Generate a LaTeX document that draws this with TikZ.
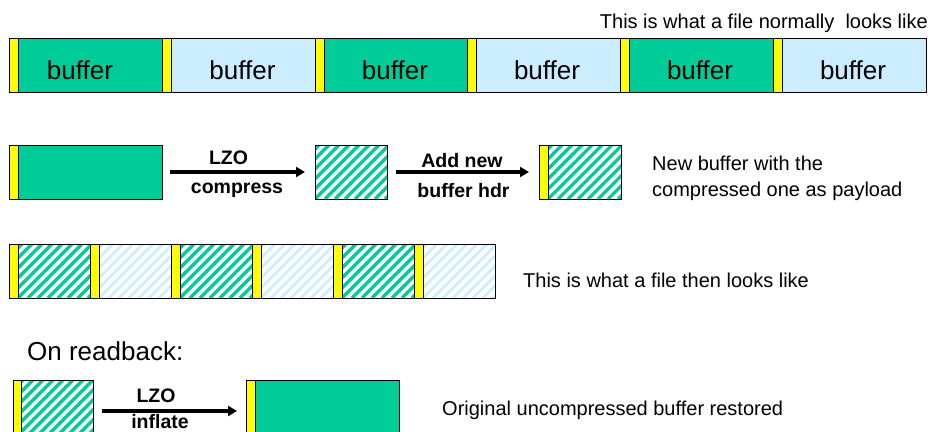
\documentclass[tikz,border=0pt]{standalone}
\usepackage{fontspec}
\setmainfont{Liberation Sans}
\usetikzlibrary{arrows.meta}
\definecolor{bgreen}{RGB}{0,204,153}
\definecolor{bblue}{RGB}{204,236,255}
\definecolor{hyel}{RGB}{255,255,0}
\begin{document}
\begin{tikzpicture}[x=1pt,y=-1pt,
  seg/.style={draw=black, line width=0.8pt, inner sep=0pt, outer sep=0pt, anchor=north west, minimum height=54pt},
  hdr/.style={seg, fill=hyel, minimum width=9pt},
  gbody/.style={seg, fill=bgreen},
  bbody/.style={seg, fill=bblue},
  hatchG/.style={seg, fill=white, path picture={\foreach \k in {-90,-80,...,170}{\draw[line width=3.2pt, draw=bgreen] ([xshift=\k pt]path picture bounding box.south west) -- ++(100pt,100pt);}}},
  hatchB/.style={seg, fill=white, path picture={\foreach \k in {-90,-80,...,170}{\draw[line width=2.8pt, draw=bblue] ([xshift=\k pt]path picture bounding box.south west) -- ++(100pt,100pt);}}},
  big/.style={font=\fontsize{26}{30}\selectfont, anchor=base, inner sep=0pt},
  small/.style={font=\fontsize{20}{24}\selectfont, inner sep=0pt},
  blab/.style={font=\fontsize{19.5}{23}\selectfont\bfseries, anchor=base, inner sep=0pt},
  arr/.style={line width=4pt, -{Triangle[length=9pt,width=10pt]}}
]
\useasboundingbox (0,0) rectangle (933,431);

% Row 1
\node[small, anchor=base east] (top) at (928,28) {This is what a file normally\ \ looks like};
\foreach \x/\w/\s/\i in {9/144/gbody/1, 162/144/bbody/2, 315/143/gbody/3, 467/144/bbody/4, 620/144/gbody/5, 773/144/bbody/6}{
  \node[hdr] (ya\i) at (\x,38) {};
  \node[\s, minimum width=\w pt] (ba\i) at (\x+9,38) {};
}
\node[big] (t1) at (80,79) {buffer};
\node[big] (t2) at (242.5,79) {buffer};
\node[big] (t3) at (395,79) {buffer};
\node[big] (t4) at (547,79) {buffer};
\node[big] (t5) at (700,79) {buffer};
\node[big] (t6) at (853,79) {buffer};

% Row 2
\node[hdr] (y2a) at (9,145) {};
\node[gbody, minimum width=144pt] (g2) at (18,145) {};
\node[hatchG, minimum width=72pt] (h2) at (315,145) {};
\node[hdr] (y2b) at (539,145) {};
\node[hatchG, minimum width=73pt] (h2b) at (548,145) {};
\draw[arr, shorten <=8pt, shorten >=10pt] (g2.east) -- (h2.west);
\draw[arr, shorten <=9pt, shorten >=10pt] (h2.east) -- (y2b.west);
\node[blab] (lzo1) at (228.5,164) {LZO};
\node[blab] (cmp) at (237,193) {compress};
\node[blab] (add) at (462,167) {Add new};
\node[blab] (bh) at (463.5,197) {buffer hdr};
\node[small, anchor=base west] (nb1) at (652,170) {New buffer with the};
\node[small, anchor=base west] (nb2) at (652,196) {compressed one as payload};

% Row 3
\foreach \x/\s/\i in {9/hatchG/1, 90/hatchB/2, 171/hatchG/3, 252/hatchB/4, 333/hatchG/5, 414/hatchB/6}{
  \node[hdr] (yc\i) at (\x,244) {};
  \node[\s, minimum width=72pt] (bc\i) at (\x+9,244) {};
}
\node[small, anchor=base west] (then) at (523,287) {This is what a file then looks like};

% Readback
\node[font=\fontsize{26}{30}\selectfont, anchor=base west, inner sep=0pt] (rb) at (27,360) {On readback:};

% Row 4
\node[hdr, minimum height=62pt] (y4a) at (13,380) {};
\node[hatchG, minimum width=72pt, minimum height=62pt] (h4) at (21,380) {};
\node[hdr, minimum height=62pt] (y4b) at (246,380) {};
\node[gbody, minimum width=144pt, minimum height=62pt] (g4) at (255,380) {};
\draw[arr, shorten <=9pt, shorten >=9pt] (h4.east) -- (y4b.west);
\node[blab] (lzo2) at (156,402) {LZO};
\node[blab] (inf) at (160,428) {inflate};
\node[small, anchor=base west] (orig) at (442,415) {Original uncompressed buffer restored};
\end{tikzpicture}
\end{document}
